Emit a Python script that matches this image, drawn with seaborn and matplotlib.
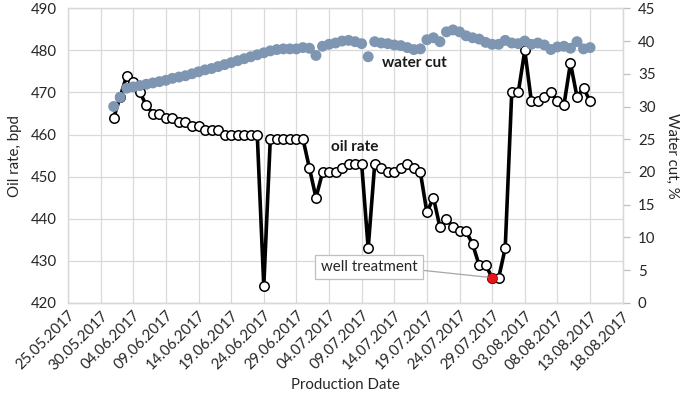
import numpy as np
import pandas as pd
import matplotlib
matplotlib.use("Agg")
import matplotlib.pyplot as plt
import matplotlib.dates as mdates
import seaborn as sns

# ---------------- data ----------------
start_date = "2017-06-01"
oil_rate = [464, 469, 474, 472.5, 470, 467, 465, 465, 464, 464,
            463, 463, 462, 462, 461, 461, 461, 460, 460, 460,
            460, 460, 460, 424, 459, 459, 459, 459, 459, 459,
            452, 445, 451, 451, 451, 452, 453, 453, 453, 433,
            453, 452, 451, 451, 452, 453, 452, 451, 441.5, 445,
            438, 440, 438, 437, 437, 434, 429, 429, 426, 426,
            433, 470, 470, 480, 468, 468, 469, 470, 468, 467,
            477, 469, 471, 468]
water_cut = [30.0, 31.4, 32.8, 33.0, 33.2, 33.4, 33.6, 33.8, 34.0, 34.3,
             34.5, 34.7, 35.0, 35.3, 35.6, 35.8, 36.1, 36.4, 36.7, 37.0,
             37.3, 37.6, 37.9, 38.2, 38.5, 38.7, 38.8, 38.8, 38.8, 39.0,
             38.9, 37.8, 39.2, 39.5, 39.7, 40.0, 40.1, 39.9, 39.6, 37.6,
             39.9, 39.7, 39.6, 39.4, 39.3, 39.0, 38.7, 38.8, 40.2, 40.5,
             39.9, 41.4, 41.7, 41.4, 40.8, 40.5, 40.3, 39.8, 39.5, 39.5,
             40.1, 39.7, 39.6, 40.0, 39.5, 39.7, 39.4, 38.7, 39.1, 39.2,
             38.9, 39.9, 38.8, 39.0]
treatment_date = "2017-07-29"
x_tick_start, x_tick_end = "2017-05-25", "2017-08-18"
oil_ticks = [420, 430, 440, 450, 460, 470, 480, 490]
wc_ticks = [0, 5, 10, 15, 20, 25, 30, 35, 40, 45]

dates = pd.date_range(start_date, periods=len(oil_rate), freq="D")
df = pd.DataFrame({"date": dates, "oil": oil_rate, "wc": water_cut})
treat = df[df["date"] == pd.Timestamp(treatment_date)]
x_ticks = pd.date_range(x_tick_start, x_tick_end, freq="5D")

# ---------------- style ----------------
sns.set_theme(style="white")
plt.rcParams["font.family"] = ["Lato", "DejaVu Sans"]
txt = "#262626"
grid_c = "#D9D9D9"
fs = 10.8

fig = plt.figure(figsize=(6.85, 4.05), dpi=100)
ax = fig.add_axes([0.0993, 0.252, 0.909 - 0.0993, 0.9795 - 0.252])
ax2 = ax.twinx()

sns.lineplot(data=df, x="date", y="oil", ax=ax, color="black", lw=2.6,
             marker="o", markersize=6.8, markerfacecolor="white",
             markeredgecolor="black", markeredgewidth=1.1, zorder=3)
sns.scatterplot(data=treat, x="date", y="oil", ax=ax, color="#E8141B",
                s=52, edgecolor="#B00000", linewidth=0.6, zorder=4)
sns.scatterplot(data=df, x="date", y="wc", ax=ax2, color="#7F96B2",
                s=62, edgecolor="none", zorder=3)

# axes limits & ticks
ax.set_xlim(x_ticks[0], x_ticks[-1])
ax.set_ylim(oil_ticks[0], oil_ticks[-1])
ax.set_yticks(oil_ticks)
ax2.set_ylim(wc_ticks[0], wc_ticks[-1])
ax2.set_yticks(wc_ticks)
ax.set_xticks(x_ticks)
ax.xaxis.set_major_formatter(mdates.DateFormatter("%d.%m.%Y"))
for lab in ax.get_xticklabels():
    lab.set_rotation(45)
    lab.set_ha("right")
    lab.set_va("top")
    lab.set_rotation_mode("anchor")

ax.grid(True, color=grid_c, lw=0.9)
ax2.grid(False)
ax.set_axisbelow(True)

for a in (ax, ax2):
    for s in a.spines.values():
        s.set_color(grid_c)
        s.set_linewidth(0.9)
ax.spines["bottom"].set_color("#BFBFBF")

ax.tick_params(axis="x", length=0, labelsize=fs, colors=txt, pad=4)
ax.tick_params(axis="y", length=0, labelsize=fs, colors=txt, pad=8)
ax2.tick_params(axis="y", length=5, width=0.9, labelsize=fs, colors=txt,
                pad=6)
ax2.tick_params(axis="y", color="#BFBFBF")

ax.set_xlabel("Production Date", fontsize=fs, color=txt, labelpad=4)
ax.set_ylabel("Oil rate, bpd", fontsize=fs, color=txt, labelpad=6)
ax2.set_ylabel("Water cut, %", fontsize=fs, color=txt, rotation=270,
               labelpad=17)

# series labels
ax.text(0.624, 0.814, "water cut", transform=ax.transAxes, ha="center",
        va="center", fontsize=11, fontweight="bold", color="#1a1a1a",
        zorder=6)
ax.text(0.516, 0.529, "oil rate", transform=ax.transAxes, ha="center",
        va="center", fontsize=11, fontweight="bold", color="#1a1a1a",
        zorder=6)

# annotation
ax.annotate("well treatment",
            xy=(treat["date"].iloc[0], treat["oil"].iloc[0]),
            xycoords="data", xytext=(0.5427, 0.122), textcoords="axes fraction",
            ha="center", va="center", fontsize=fs, color=txt,
            bbox=dict(boxstyle="square,pad=0.35", fc="white", ec="#BFBFBF",
                      lw=0.9),
            arrowprops=dict(arrowstyle="-", color="#A6A6A6", lw=0.9,
                            shrinkA=0, shrinkB=3, relpos=(1.0, 0.3)),
            zorder=5)

fig.savefig("out.png", dpi=100)
